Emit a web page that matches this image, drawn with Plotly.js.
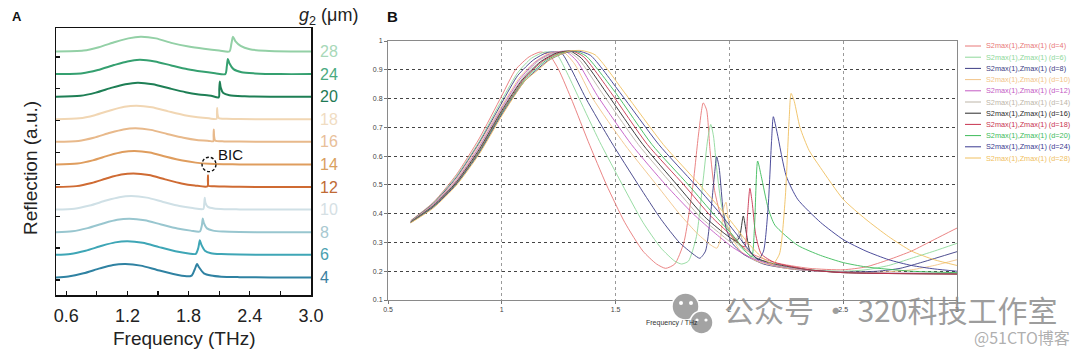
<!DOCTYPE html>
<html>
<head>
<meta charset="utf-8">
<script src="https://cdn.plot.ly/plotly-3.0.1.min.js"></script>
<style>
html,body{margin:0;padding:0;background:#fff;}
#chart{width:1080px;height:353px;}
</style>
</head>
<body>
<div id="chart"></div>
<script>
// ---------------- Panel A data (relative reflection, stacked) ----------------
const gapsA = [4, 6, 8, 10, 12, 14, 16, 18, 20, 24, 28];
const freqA4  = [0.5,0.62,0.77,0.93,1.06,1.18,1.33,1.49,1.65,1.78,1.83,1.86,1.883,1.9,1.95,2.02,2.12,2.3,2.6,3.0];
const reflA4  = [0.00,0.04,0.18,0.40,0.55,0.59,0.52,0.33,0.15,0.05,0.08,0.35,0.59,0.46,0.18,0.08,0.03,0.01,0.0,0.0];
const freqA6  = [0.5,0.64,0.79,0.95,1.08,1.20,1.35,1.51,1.67,1.80,1.87,1.895,1.91,1.925,1.96,2.02,2.12,2.3,2.6,3.0];
const reflA6  = [0.00,0.04,0.18,0.40,0.55,0.60,0.53,0.34,0.16,0.06,0.04,0.30,0.64,0.45,0.18,0.07,0.03,0.01,0.0,0.0];
const freqA8  = [0.5,0.66,0.81,0.97,1.10,1.22,1.37,1.53,1.69,1.82,1.91,1.93,1.939,1.95,1.98,2.04,2.14,2.3,2.6,3.0];
const reflA8  = [0.00,0.04,0.18,0.40,0.55,0.60,0.53,0.34,0.16,0.07,0.03,0.30,0.61,0.40,0.17,0.07,0.03,0.01,0.0,0.0];
const freqA10 = [0.5,0.68,0.83,0.99,1.12,1.24,1.39,1.55,1.71,1.84,1.945,1.953,1.958,1.965,1.99,2.05,2.15,2.3,2.6,3.0];
const reflA10 = [0.00,0.04,0.18,0.40,0.55,0.60,0.53,0.34,0.16,0.07,0.03,0.25,0.52,0.30,0.12,0.05,0.02,0.01,0.0,0.0];
const freqA12 = [0.5,0.70,0.85,1.01,1.14,1.26,1.41,1.57,1.73,1.86,1.985,1.989,1.99,1.991,1.995,2.05,2.15,2.3,2.6,3.0];
const reflA12 = [0.00,0.04,0.18,0.40,0.55,0.60,0.53,0.34,0.16,0.07,0.03,0.30,0.52,0.30,0.05,0.03,0.02,0.01,0.0,0.0];
const freqA14 = [0.5,0.71,0.86,1.02,1.15,1.27,1.42,1.58,1.74,1.87,2.0,2.15,2.3,2.6,3.0];
const reflA14 = [0.00,0.04,0.18,0.40,0.55,0.60,0.53,0.34,0.17,0.08,0.03,0.01,0.0,0.0,0.0];
const freqA16 = [0.5,0.72,0.87,1.03,1.16,1.28,1.43,1.59,1.75,1.88,2.0,2.042,2.045,2.047,2.05,2.06,2.15,2.3,2.6,3.0];
const reflA16 = [0.00,0.04,0.18,0.40,0.55,0.60,0.53,0.35,0.18,0.08,0.04,0.03,0.30,0.55,0.25,0.06,0.02,0.01,0.0,0.0];
const freqA18 = [0.5,0.73,0.88,1.04,1.17,1.29,1.44,1.60,1.76,1.89,2.0,2.075,2.078,2.08,2.083,2.095,2.17,2.3,2.6,3.0];
const reflA18 = [0.00,0.04,0.18,0.40,0.55,0.60,0.53,0.35,0.18,0.09,0.04,0.02,0.25,0.50,0.25,0.06,0.02,0.01,0.0,0.0];
const freqA20 = [0.5,0.74,0.89,1.05,1.18,1.30,1.45,1.61,1.77,1.90,2.02,2.095,2.101,2.106,2.115,2.14,2.2,2.35,2.6,3.0];
const reflA20 = [0.00,0.04,0.18,0.40,0.55,0.62,0.55,0.37,0.20,0.10,0.04,-0.03,0.35,0.67,0.40,0.16,0.06,0.02,0.0,0.0];
const freqA24 = [0.5,0.76,0.91,1.07,1.20,1.32,1.47,1.63,1.79,1.93,2.06,2.16,2.175,2.185,2.2,2.24,2.32,2.45,2.7,3.0];
const reflA24 = [0.00,0.04,0.18,0.40,0.56,0.63,0.56,0.38,0.21,0.11,0.04,0.0,0.35,0.67,0.48,0.22,0.08,0.03,0.0,0.0];
const freqA28 = [0.5,0.77,0.92,1.08,1.21,1.33,1.48,1.64,1.80,1.95,2.1,2.2,2.22,2.235,2.26,2.31,2.4,2.55,2.8,3.0];
const reflA28 = [0.00,0.04,0.19,0.42,0.58,0.65,0.58,0.37,0.22,0.12,0.04,0.0,0.35,0.65,0.45,0.25,0.10,0.03,0.0,0.0];
const bicFreqA = 2.0;

// ---------------- Panel B data (S-parameter reflection) ----------------
const gapsB = [4, 6, 8, 10, 12, 14, 16, 18, 20, 24, 28];
const freqB4  = [0.6,0.7,0.8,0.9,1.0,1.06,1.12,1.17,1.21,1.25,1.31,1.38,1.46,1.54,1.62,1.68,1.72,1.76,1.8,1.84,1.865,1.885,1.9,1.915,1.935,1.96,2.0,2.05,2.1,2.2,2.35,2.5,2.6,2.7,2.8,2.9,3.0];
const reflB4  = [0.376,0.44,0.535,0.66,0.81,0.9,0.945,0.962,0.95,0.90,0.79,0.65,0.50,0.37,0.27,0.225,0.21,0.225,0.30,0.50,0.68,0.785,0.76,0.62,0.48,0.40,0.34,0.29,0.26,0.23,0.21,0.205,0.215,0.24,0.27,0.31,0.35];
const freqB6  = [0.6,0.7,0.8,0.9,1.0,1.07,1.13,1.19,1.24,1.28,1.34,1.43,1.53,1.62,1.70,1.76,1.79,1.82,1.855,1.885,1.905,1.918,1.93,1.945,1.965,1.99,2.03,2.1,2.2,2.35,2.5,2.6,2.7,2.8,2.9,3.0];
const reflB6  = [0.375,0.438,0.53,0.65,0.795,0.89,0.94,0.962,0.955,0.90,0.80,0.65,0.50,0.37,0.28,0.235,0.225,0.235,0.32,0.52,0.66,0.71,0.67,0.55,0.43,0.36,0.30,0.25,0.22,0.205,0.20,0.205,0.22,0.245,0.27,0.297];
const freqB8  = [0.6,0.7,0.8,0.9,1.0,1.07,1.14,1.20,1.26,1.30,1.37,1.48,1.60,1.70,1.78,1.84,1.87,1.895,1.915,1.935,1.944,1.955,1.97,1.985,2.01,2.06,2.15,2.3,2.5,2.65,2.75,2.85,3.0];
const reflB8  = [0.374,0.436,0.525,0.645,0.785,0.88,0.935,0.96,0.96,0.91,0.80,0.65,0.50,0.38,0.30,0.26,0.245,0.27,0.38,0.54,0.598,0.56,0.43,0.35,0.30,0.26,0.225,0.205,0.198,0.20,0.21,0.232,0.268];
const freqB10 = [0.6,0.7,0.8,0.9,1.0,1.08,1.15,1.21,1.27,1.32,1.40,1.54,1.68,1.78,1.86,1.92,1.945,1.96,1.975,1.985,1.995,2.01,2.05,2.12,2.25,2.45,2.65,2.8,2.9,3.0];
const reflB10 = [0.373,0.434,0.52,0.64,0.775,0.875,0.93,0.958,0.962,0.92,0.80,0.64,0.50,0.40,0.33,0.29,0.28,0.31,0.42,0.44,0.38,0.32,0.27,0.235,0.21,0.198,0.196,0.205,0.22,0.24];
const freqB12 = [0.6,0.7,0.8,0.9,1.0,1.08,1.15,1.22,1.28,1.33,1.42,1.57,1.72,1.84,1.94,2.02,2.1,2.2,2.35,2.55,2.8,3.0];
const reflB12 = [0.372,0.432,0.515,0.632,0.768,0.868,0.928,0.958,0.964,0.93,0.81,0.64,0.50,0.40,0.33,0.28,0.245,0.22,0.203,0.195,0.193,0.193];
const freqB14 = [0.6,0.7,0.8,0.9,1.0,1.09,1.16,1.23,1.29,1.34,1.44,1.60,1.75,1.87,1.96,2.01,2.03,2.045,2.06,2.1,2.2,2.35,2.55,3.0];
const reflB14 = [0.372,0.43,0.512,0.627,0.763,0.87,0.93,0.958,0.964,0.935,0.82,0.64,0.50,0.39,0.33,0.30,0.31,0.34,0.30,0.255,0.222,0.203,0.195,0.192];
const freqB16 = [0.6,0.7,0.8,0.9,1.0,1.09,1.17,1.24,1.30,1.35,1.46,1.62,1.77,1.89,1.98,2.03,2.045,2.061,2.075,2.09,2.12,2.2,2.35,2.5,3.0];
const reflB16 = [0.371,0.428,0.509,0.622,0.758,0.865,0.928,0.958,0.965,0.94,0.82,0.64,0.50,0.39,0.33,0.305,0.32,0.392,0.33,0.27,0.245,0.225,0.205,0.195,0.19];
const freqB18 = [0.6,0.7,0.8,0.9,1.0,1.1,1.18,1.25,1.31,1.36,1.48,1.64,1.80,1.92,2.0,2.05,2.068,2.08,2.09,2.10,2.115,2.14,2.2,2.35,2.5,3.0];
const reflB18 = [0.37,0.426,0.506,0.617,0.753,0.87,0.93,0.958,0.965,0.945,0.82,0.64,0.50,0.39,0.33,0.29,0.285,0.40,0.488,0.44,0.33,0.26,0.23,0.205,0.195,0.19];
const freqB20 = [0.6,0.7,0.8,0.9,1.0,1.1,1.19,1.26,1.32,1.37,1.50,1.66,1.82,1.94,2.02,2.07,2.098,2.11,2.124,2.14,2.17,2.2,2.3,2.4,2.5,2.6,2.8,3.0];
const reflB20 = [0.37,0.425,0.504,0.614,0.75,0.865,0.93,0.958,0.965,0.948,0.82,0.64,0.50,0.39,0.32,0.27,0.25,0.35,0.583,0.53,0.42,0.36,0.29,0.255,0.23,0.215,0.2,0.195];
const freqB24 = [0.6,0.7,0.8,0.9,1.0,1.1,1.2,1.27,1.33,1.39,1.52,1.69,1.85,1.97,2.05,2.1,2.127,2.15,2.17,2.185,2.193,2.21,2.25,2.3,2.4,2.5,2.6,2.7,2.8,2.9,3.0];
const reflB24 = [0.369,0.423,0.502,0.61,0.745,0.86,0.93,0.957,0.966,0.95,0.82,0.64,0.50,0.39,0.31,0.26,0.24,0.27,0.42,0.65,0.737,0.68,0.53,0.45,0.37,0.31,0.27,0.24,0.22,0.208,0.2];
const freqB28 = [0.6,0.7,0.8,0.9,1.0,1.1,1.16,1.22,1.3,1.35,1.41,1.54,1.71,1.87,2.0,2.08,2.14,2.19,2.22,2.245,2.262,2.271,2.285,2.31,2.35,2.4,2.5,2.6,2.7,2.8,2.9,3.0];
const reflB28 = [0.368,0.42,0.498,0.606,0.74,0.86,0.9,0.94,0.965,0.967,0.952,0.82,0.64,0.50,0.38,0.30,0.25,0.225,0.26,0.45,0.72,0.818,0.79,0.70,0.62,0.56,0.45,0.38,0.32,0.27,0.24,0.22];
const legendLabelsB = gapsB.map(d => 'S2max(1),Zmax(1) (d=' + d + ')');

// ---------------- styles ----------------
const colorsA = ['#2f82a2','#3ea6b6','#98c6cf','#cfe0e6','#cf6b33','#df9d5e','#e8b98b','#f1d6b3','#1e7f55','#35a070','#93d0a6'];
const labelColorsA = ['#3a80a0','#4a9fb0','#a8c8d0','#d5e0e4','#c06a35','#d9a060','#e8c09a','#f0dcc2','#1f7a55','#4aaa80','#a8d8b8'];
const colorsB = ['#e87878','#8ed89a','#3c3c84','#f2c488','#c45ac4','#bdb5a8','#2a2a2a','#c8334f','#3dbb5a','#3a3a90','#f0c060'];

const W = 1080, H = 353;
const px = x => x / W, py = y => 1 - y / H;

const seriesA = [[freqA4,reflA4],[freqA6,reflA6],[freqA8,reflA8],[freqA10,reflA10],[freqA12,reflA12],[freqA14,reflA14],[freqA16,reflA16],[freqA18,reflA18],[freqA20,reflA20],[freqA24,reflA24],[freqA28,reflA28]];
const seriesB = [[freqB4,reflB4],[freqB6,reflB6],[freqB8,reflB8],[freqB10,reflB10],[freqB12,reflB12],[freqB14,reflB14],[freqB16,reflB16],[freqB18,reflB18],[freqB20,reflB20],[freqB24,reflB24],[freqB28,reflB28]];

const baseA = 0.78, stepA = 1.0;
const traces = [];
seriesA.forEach((s, i) => {
  const off = baseA + i * stepA;
  traces.push({x: s[0], y: s[1].map(v => v + off), xaxis:'x', yaxis:'y', mode:'lines',
    line:{color: colorsA[i], width: 2, shape:'spline', smoothing:0.7}, hoverinfo:'skip'});
});
seriesB.forEach((s, i) => {
  traces.push({x: s[0], y: s[1], xaxis:'x2', yaxis:'y2', mode:'lines', opacity:0.9,
    line:{color: colorsB[i], width: 1, shape:'spline', smoothing:0.6}, hoverinfo:'skip'});
});

const annotations = [];
const shapes = [];
const fA = 'Liberation Sans, Arial, sans-serif';

// Panel letters
annotations.push({xref:'paper', yref:'paper', x:px(10), y:py(17), text:'<b>A</b>', showarrow:false, xanchor:'left', yanchor:'middle', font:{family:fA, size:13, color:'#111'}});
annotations.push({xref:'paper', yref:'paper', x:px(385), y:py(17), text:'<b>B</b>', showarrow:false, xanchor:'left', yanchor:'middle', font:{family:fA, size:15, color:'#111'}});
// g2 header
annotations.push({xref:'paper', yref:'paper', x:px(328), y:py(17), text:'<i>g</i><sub>2</sub> (μm)', showarrow:false, xanchor:'center', yanchor:'middle', font:{family:fA, size:18, color:'#222'}});
// Axis titles A
annotations.push({xref:'paper', yref:'paper', x:px(184), y:py(338), text:'Frequency (THz)', showarrow:false, xanchor:'center', yanchor:'middle', font:{family:fA, size:19, color:'#222'}});
annotations.push({xref:'paper', yref:'paper', x:px(30), y:py(168), text:'Reflection (a.u.)', textangle:-90, showarrow:false, xanchor:'center', yanchor:'middle', font:{family:fA, size:19, color:'#222'}});
// right-side gap labels
gapsA.forEach((g, i) => {
  annotations.push({xref:'paper', yref:'y', x:px(318), y: baseA + i*stepA, text: String(g), showarrow:false, xanchor:'left', yanchor:'middle', font:{family:fA, size:16, color: labelColorsA[i]}});
});
// BIC marker on the d=14 curve
const iBic = gapsA.indexOf(14);
const yBic = baseA + iBic*stepA;
shapes.push({type:'circle', xref:'x', yref:'y', x0: bicFreqA-0.068, x1: bicFreqA+0.068, y0: yBic-0.32, y1: yBic+0.32, line:{color:'#111', width:1.4, dash:'3px,2px'}});
annotations.push({xref:'x', yref:'y', x: bicFreqA+0.07, y: yBic+0.42, text:'BIC', showarrow:false, xanchor:'left', yanchor:'middle', font:{family:fA, size:15, color:'#111'}});

// Panel B axis title
annotations.push({xref:'paper', yref:'paper', x:px(672), y:py(323), text:'Frequency / THz', showarrow:false, xanchor:'center', yanchor:'middle', font:{family:fA, size:7, color:'#333'}});

// Panel B legend (drawn by hand: compact rows)
legendLabelsB.forEach((t, i) => {
  const yy = 46 + i*11.2;
  shapes.push({type:'line', xref:'paper', yref:'paper', x0:px(965), x1:px(981), y0:py(yy), y1:py(yy), line:{color: colorsB[i], width:1}});
  annotations.push({xref:'paper', yref:'paper', x:px(984), y:py(yy), text:t, showarrow:false, xanchor:'left', yanchor:'middle', font:{family:fA, size:7.3, color: colorsB[i]}});
});

// Watermark (WeChat-style icon + text)
shapes.push({type:'circle', xref:'paper', yref:'paper', x0:px(672), x1:px(699), y0:py(320), y1:py(293), fillcolor:'#a3a3a3', line:{color:'#ffffff', width:1.5}, layer:'above'});
shapes.push({type:'circle', xref:'paper', yref:'paper', x0:px(690), x1:px(713), y0:py(334), y1:py(311), fillcolor:'#a3a3a3', line:{color:'#ffffff', width:1.5}, layer:'above'});
[[681,303,2],[691,303,2],[697,320,1.6],[706,320,1.6]].forEach(e => {
  shapes.push({type:'circle', xref:'paper', yref:'paper', x0:px(e[0]-e[2]), x1:px(e[0]+e[2]), y0:py(e[1]+e[2]), y1:py(e[1]-e[2]), fillcolor:'#ffffff', line:{width:0}, layer:'above'});
});
annotations.push({xref:'paper', yref:'paper', x:px(722), y:py(309), text:'公众号 · 320科技工作室', showarrow:false, xanchor:'left', yanchor:'middle', font:{family:'Noto Sans CJK SC, sans-serif', size:30, color:'rgba(140,140,140,0.85)'}});
annotations.push({xref:'paper', yref:'paper', x:px(1072), y:py(337), text:'@51CTO博客', showarrow:false, xanchor:'right', yanchor:'middle', font:{family:'Noto Sans CJK SC, sans-serif', size:16, color:'rgba(165,165,165,0.9)'}});

const layout = {
  width: W, height: H,
  margin: {l:0, r:0, t:0, b:0},
  paper_bgcolor: '#ffffff', plot_bgcolor: '#ffffff',
  showlegend: false,
  font: {family: fA},
  xaxis: {
    domain: [px(56), px(311)], anchor:'y', range:[0.5, 3.0],
    tick0: 0.6, dtick: 0.6, tickformat: '.1f', ticks:'inside', ticklen:4, tickwidth:1.3, tickcolor:'#111',
    ticklabelstandoff: 4,
    minor: {tick0: 0.6, dtick: 0.3, ticks:'inside', ticklen:4, tickwidth:1.3, tickcolor:'#111'},
    showline:true, linecolor:'#111', linewidth:1.5, mirror:true, showgrid:false, zeroline:false,
    tickfont: {family:fA, size:18, color:'#222'}
  },
  yaxis: {
    domain: [1-295/H, 1-28/H], anchor:'x', range:[0, 11.82],
    tick0: 0.67, dtick: 1.41, ticks:'inside', ticklen:4, tickwidth:1.3, tickcolor:'#111',
    showticklabels:false, showline:true, linecolor:'#111', linewidth:1.5, mirror:true, showgrid:false, zeroline:false
  },
  xaxis2: {
    domain: [px(388), px(957)], anchor:'y2', range:[0.5, 3.0], dtick:0.5, tick0:0.5,
    showgrid:true, gridcolor:'#9a9a9a', griddash:'dot', gridwidth:1,
    showline:true, linecolor:'#8a8a8a', linewidth:1, mirror:true, zeroline:false,
    ticks:'outside', ticklen:3, tickcolor:'#777',
    tickfont:{family:fA, size:7, color:'#444'}
  },
  yaxis2: {
    domain: [1-300/H, 1-41/H], anchor:'x2', range:[0.1, 1.0], dtick:0.1, tick0:0.1,
    showgrid:true, gridcolor:'#444444', griddash:'dot', gridwidth:1,
    showline:true, linecolor:'#8a8a8a', linewidth:1, mirror:true, zeroline:false,
    ticks:'outside', ticklen:3, tickcolor:'#777',
    tickfont:{family:fA, size:7, color:'#444'}
  },
  annotations: annotations,
  shapes: shapes
};

Plotly.newPlot('chart', traces, layout, {staticPlot:true, displayModeBar:false});
</script>
</body>
</html>
